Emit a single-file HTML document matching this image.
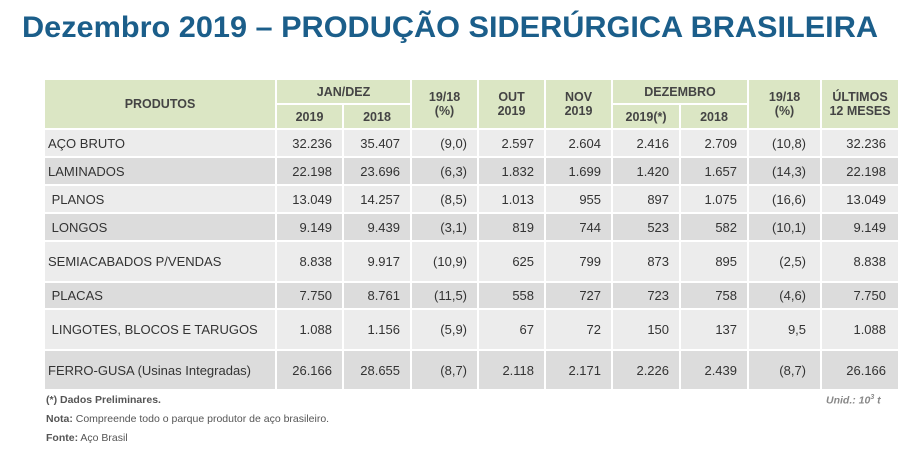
<!DOCTYPE html>
<html><head><meta charset="utf-8"><style>
body{margin:0;width:906px;height:460px;background:#fff;font-family:"Liberation Sans",sans-serif;position:relative;overflow:hidden}
#title{position:absolute;left:22px;top:6px;width:860px;height:44px}
table{position:absolute;left:43px;top:78px;width:855px;border-collapse:collapse;table-layout:fixed;font-size:13px;color:#333}
td,th{border:2px solid #fff;padding:0;text-align:center}
th{background:#dbe6c4;color:#444;font-weight:bold;font-size:12.5px;line-height:14px}
td.n{text-align:right;padding-right:10px}
td.l{text-align:left;padding-left:3px}
tr.a td{background:#ececec}
tr.b td{background:#dcdcdc}
.foot{position:absolute;font-size:10.5px;color:#555}
</style></head><body>
<svg id="title"><text x="0" y="31" font-family="Liberation Sans" font-weight="bold" font-size="30" fill="#1b5e8a" textLength="856" lengthAdjust="spacingAndGlyphs">Dezembro 2019 – PRODUÇÃO SIDERÚRGICA BRASILEIRA</text></svg>
<table>
<colgroup><col style="width:232px"><col style="width:67px"><col style="width:68px"><col style="width:67px"><col style="width:67px"><col style="width:67px"><col style="width:68px"><col style="width:68px"><col style="width:73px"><col style="width:78px"></colgroup>
<tr style="height:25px"><th rowspan="2">PRODUTOS</th><th colspan="2">JAN/DEZ</th><th rowspan="2">19/18<br>(%)</th><th rowspan="2">OUT<br>2019</th><th rowspan="2">NOV<br>2019</th><th colspan="2">DEZEMBRO</th><th rowspan="2">19/18<br>(%)</th><th rowspan="2">ÚLTIMOS<br>12 MESES</th></tr>
<tr style="height:25px"><th>2019</th><th>2018</th><th>2019(*)</th><th>2018</th></tr>
</table>
<div class="foot" style="left:46px;top:394px;font-weight:bold">(*) Dados Preliminares.</div>
<div class="foot" style="left:46px;top:413px"><b>Nota:</b> Compreende todo o parque produtor de aço brasileiro.</div>
<div class="foot" style="left:46px;top:432px"><b>Fonte:</b> Aço Brasil</div>
<div class="foot" style="left:826px;top:394px;font-style:italic;color:#888;font-weight:bold">Unid.: 10<sup style="font-size:7px">3</sup> t</div>
<script>
const products=["AÇO BRUTO","LAMINADOS"," PLANOS"," LONGOS","SEMIACABADOS P/VENDAS"," PLACAS"," LINGOTES, BLOCOS E TARUGOS","FERRO-GUSA (Usinas Integradas)"];
const jan2019=["32.236","22.198","13.049","9.149","8.838","7.750","1.088","26.166"];
const jan2018=["35.407","23.696","14.257","9.439","9.917","8.761","1.156","28.655"];
const var1=["(9,0)","(6,3)","(8,5)","(3,1)","(10,9)","(11,5)","(5,9)","(8,7)"];
const out2019=["2.597","1.832","1.013","819","625","558","67","2.118"];
const nov2019=["2.604","1.699","955","744","799","727","72","2.171"];
const dez2019=["2.416","1.420","897","523","873","723","150","2.226"];
const dez2018=["2.709","1.657","1.075","582","895","758","137","2.439"];
const var2=["(10,8)","(14,3)","(16,6)","(10,1)","(2,5)","(4,6)","9,5","(8,7)"];
const last12=["32.236","22.198","13.049","9.149","8.838","7.750","1.088","26.166"];
const heights=[28,28,28,28,41,27,41,40];
const tbl=document.querySelector('table');
products.forEach((p,i)=>{
  const tr=document.createElement('tr');
  tr.className=i%2?'b':'a';
  tr.style.height=heights[i]+'px';
  
  
  const vals=[jan2019[i],jan2018[i],var1[i],out2019[i],nov2019[i],dez2019[i],dez2018[i],var2[i],last12[i]];
  const td0=document.createElement('td');td0.className='l';td0.textContent=p.replace(/^ /,'\u00a0');
  
  
  tr.appendChild(td0);
  vals.forEach((v,j)=>{
    const td=document.createElement('td');td.className='n';td.textContent=v;
    if(j==7)td.style.paddingRight='14px';
    if(j==8)td.style.paddingRight='12px';
    
    
    tr.appendChild(td);
  });
  tbl.appendChild(tr);
});
</script>
</body></html>
